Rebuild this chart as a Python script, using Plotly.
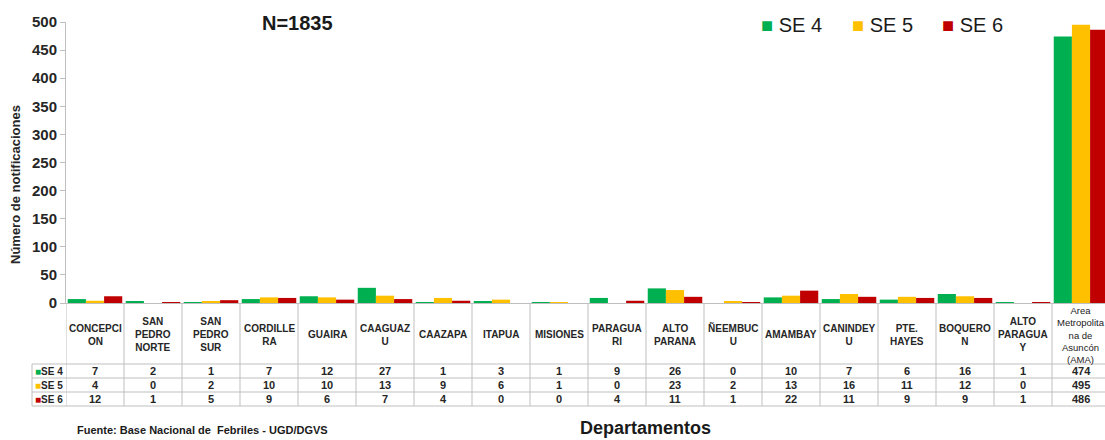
import plotly.graph_objects as go

# Departamentos y notificaciones por semana epidemiológica
departamentos = [
    "CONCEPCI<br>ON", "SAN<br>PEDRO<br>NORTE", "SAN<br>PEDRO<br>SUR", "CORDILLE<br>RA",
    "GUAIRA", "CAAGUAZ<br>U", "CAAZAPA", "ITAPUA", "MISIONES", "PARAGUA<br>RI",
    "ALTO<br>PARANA", "ÑEEMBUC<br>U", "AMAMBAY", "CANINDEY<br>U", "PTE.<br>HAYES",
    "BOQUERO<br>N", "ALTO<br>PARAGUA<br>Y", "Area<br>Metropolita<br>na de<br>Asuncón<br>(AMA)",
]
se4 = [7, 2, 1, 7, 12, 27, 1, 3, 1, 9, 26, 0, 10, 7, 6, 16, 1, 474]
se5 = [4, 0, 2, 10, 10, 13, 9, 6, 1, 0, 23, 2, 13, 16, 11, 12, 0, 495]
se6 = [12, 1, 5, 9, 6, 7, 4, 0, 0, 4, 11, 1, 22, 11, 9, 9, 1, 486]
series_names = ["SE 4", "SE 5", "SE 6"]
y_ticks = list(range(0, 501, 50))

colors = ["#00B050", "#FFC000", "#C00000"]
series = [se4, se5, se6]
xs = list(range(len(departamentos)))

W, H = 1105, 440
ML, MR, MT, MB = 66, 0, 22, 137
plot_h = H - MT - MB
plot_w = W - ML - MR


def py(pixel_y):
    """pixel row -> paper y"""
    return (H - MB - pixel_y) / plot_h


def px(pixel_x):
    """pixel column -> paper x"""
    return (pixel_x - ML) / plot_w


fig = go.Figure()
for name, vals, col in zip(series_names, series, colors):
    fig.add_trace(go.Bar(x=xs, y=vals, name=name, showlegend=False,
                         marker=dict(color=col, line=dict(width=0))))

grid = "#BFBFBF"
ink = "#262626"
font_fam = "Liberation Sans, Arial, sans-serif"
shapes = []
annotations = []

# data table under the axis
row_edges = [303, 364, 378, 392, 406]
n = len(departamentos)
for i in range(n + 1):
    shapes.append(dict(type="line", xref="x", yref="paper", x0=i - 0.5, x1=i - 0.5,
                       y0=py(row_edges[0]), y1=py(row_edges[-1]), line=dict(color=grid, width=1)))
for e in row_edges[1:]:
    shapes.append(dict(type="line", xref="paper", yref="paper", x0=px(32), x1=1.02,
                       y0=py(e), y1=py(e), line=dict(color=grid, width=1)))
shapes.append(dict(type="line", xref="paper", yref="paper", x0=px(32), x1=px(32),
                   y0=py(row_edges[1]), y1=py(row_edges[-1]), line=dict(color=grid, width=1)))

for i, name in enumerate(departamentos):
    is_ama = i == n - 1
    annotations.append(dict(
        x=i, y=py((row_edges[0] + row_edges[1]) / 2 + (1.5 if is_ama else 1)),
        xref="x", yref="paper",
        text=name if is_ama else f"<b>{name}</b>", showarrow=False,
        font=dict(size=9.5 if is_ama else 10, color="#1a1a1a" if is_ama else ink,
                  family=font_fam), align="center",
        yanchor="middle", xanchor="center"))

for r, (name, vals, col) in enumerate(zip(series_names, series, colors)):
    yc = py((row_edges[r + 1] + row_edges[r + 2]) / 2)
    annotations.append(dict(
        x=px(33), y=yc, xref="paper", yref="paper",
        text=f"<span style='color:{col}'>■</span><b>{name}</b>", showarrow=False,
        font=dict(size=10, color=ink, family=font_fam), xanchor="left", yanchor="middle"))
    for i, v in enumerate(vals):
        annotations.append(dict(
            x=i, y=yc, xref="x", yref="paper", text=f"<b>{v}</b>", showarrow=False,
            font=dict(size=11, color=ink, family=font_fam), xanchor="center", yanchor="middle"))

# legend keys
legend_x = [759, 850, 940]
for name, col, lx in zip(series_names, colors, legend_x):
    annotations.append(dict(
        x=px(lx), y=py(25), xref="paper", yref="paper", xanchor="left", yanchor="middle",
        text=f"<span style='color:{col}'>■</span> {name}", showarrow=False,
        font=dict(size=20, color="#1a1a1a", family=font_fam)))

annotations += [
    dict(x=px(297), y=py(23), xref="paper", yref="paper", text="<b>N=1835</b>",
         xanchor="center", yanchor="middle",
         showarrow=False, font=dict(size=20, color="#1a1a1a", family=font_fam)),
    dict(x=px(15), y=py(185), xref="paper", yref="paper", text="<b>Número de notificaciones</b>",
         xanchor="center", yanchor="middle",
         textangle=-90, showarrow=False, font=dict(size=13, color=ink, family=font_fam)),
    dict(x=px(645), y=py(428), xref="paper", yref="paper", text="<b>Departamentos</b>",
         xanchor="center", yanchor="middle",
         showarrow=False, font=dict(size=18, color="#1a1a1a", family=font_fam)),
    dict(x=px(75), y=py(430), xref="paper", yref="paper",
         text="<b>Fuente: Base Nacional de  Febriles - UGD/DGVS</b>", xanchor="left",
         yanchor="middle",
         showarrow=False, font=dict(size=11, color="#1a1a1a", family=font_fam)),
]

fig.update_layout(
    width=W, height=H,
    margin=dict(l=ML, r=MR, t=MT, b=MB, autoexpand=False),
    paper_bgcolor="white", plot_bgcolor="white",
    barmode="group", bargap=0.06, bargroupgap=0,
    showlegend=False,
    shapes=shapes, annotations=annotations,
    font=dict(family=font_fam),
)
fig.update_xaxes(range=[-0.5, n - 0.5 + (plot_w - n * 58) / 58], showticklabels=False,
                 showline=True, linecolor=grid, showgrid=False, zeroline=False, ticks="")
fig.update_yaxes(range=[0, 500], tickvals=y_ticks, showgrid=False, zeroline=False,
                 showline=True, linecolor=grid, ticks="outside", ticklen=5, tickcolor=grid,
                 tickfont=dict(size=15, color=ink, family=font_fam, weight="bold"))

fig.write_html("out.html")
